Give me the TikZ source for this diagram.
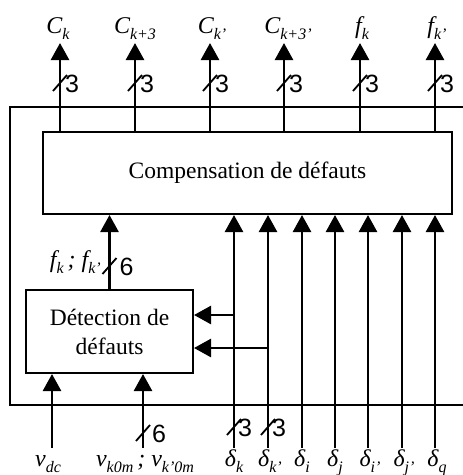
\documentclass[tikz,border=0pt]{standalone}
\usepackage{fontspec}
\setmainfont{Liberation Serif}
\newfontfamily\numfont{Liberation Sans}
\usetikzlibrary{arrows.meta}
\tikzset{
  sigarrow/.style={-{Triangle[length=17pt,width=18pt]}, line width=2.6pt},
  frame/.style={line width=2pt},
  block/.style={draw, line width=2pt, align=center, inner sep=0pt, font=\fontsize{23.5}{29}\selectfont},
  busmark/.style={line width=1.8pt},
  buslabel/.style={font=\numfont\fontsize{25}{25}\selectfont, inner sep=0pt, anchor=west},
  siglabel/.style={font=\fontsize{24}{24}\selectfont\itshape, inner sep=0pt, anchor=base}
}
\newcommand{\sig}[2]{#1\raisebox{-0.28em}{\fontsize{16}{16}\selectfont #2}}
\newcommand{\busmark}[4][5]{%
  \draw[busmark] (#2,#3) ++(-7,8) -- ++(14,-16);
  \node[buslabel] at (#2+#1,#3+1) {#4};}

\begin{document}
\begin{tikzpicture}[x=1pt, y=-1pt]
  \useasboundingbox (0,0) rectangle (463,475);
  % enclosing frame, open on the right
  \draw[frame] (463,107) -- (10,107) -- (10,405) -- (463,405);

  \node[block, minimum width=409pt, minimum height=82pt] (comp) at (247.5,173) {Compensation de défauts};
  \node[block, minimum width=167pt, minimum height=83pt] (det) at (109.5,331.5) {Détection de\\ défauts};

  % outputs
  \coordinate (o1) at (60,43);
  \coordinate (o2) at (135,43);
  \coordinate (o3) at (210,43);
  \coordinate (o4) at (284,43);
  \coordinate (o5) at (360,43);
  \coordinate (o6) at (435,43);
  \draw[sigarrow] (comp.north -| o1) -- (o1);
  \draw[sigarrow] (comp.north -| o2) -- (o2);
  \draw[sigarrow] (comp.north -| o3) -- (o3);
  \draw[sigarrow] (comp.north -| o4) -- (o4);
  \draw[sigarrow] (comp.north -| o5) -- (o5);
  \draw[sigarrow] (comp.north -| o6) -- (o6);
  \node[siglabel] (lC1) at (58,33) {\sig{C}{k}};
  \node[siglabel] (lC2) at (135,33) {\sig{C}{k+3}};
  \node[siglabel] (lC3) at (212,33) {\sig{C}{k’}};
  \node[siglabel] (lC4) at (288,33) {\sig{C}{k+3’}};
  \node[siglabel] (lf1) at (362,33) {\sig{f}{k}};
  \node[siglabel] (lf2) at (437,33) {\sig{f}{k’}};
  \busmark{60}{83}{3}
  \busmark{135}{83}{3}
  \busmark{210}{83}{3}
  \busmark{284}{83}{3}
  \busmark{360}{83}{3}
  \busmark{435}{83}{3}

  % fault signals
  \coordinate (d1) at (234,448);
  \coordinate (d2) at (268,448);
  \coordinate (d3) at (302,448);
  \coordinate (d4) at (335,448);
  \coordinate (d5) at (368,448);
  \coordinate (d6) at (402,448);
  \coordinate (d7) at (435,448);
  \draw[sigarrow] (d1) -- (d1 |- comp.south);
  \draw[sigarrow] (d2) -- (d2 |- comp.south);
  \draw[sigarrow] (d3) -- (d3 |- comp.south);
  \draw[sigarrow] (d4) -- (d4 |- comp.south);
  \draw[sigarrow] (d5) -- (d5 |- comp.south);
  \draw[sigarrow] (d6) -- (d6 |- comp.south);
  \draw[sigarrow] (d7) -- (d7 |- comp.south);
  \node[siglabel] (ld1) at (234,466) {\sig{δ}{k}};
  \node[siglabel] (ld2) at (270,466) {\sig{δ}{k’}};
  \node[siglabel] (ld3) at (302,466) {\sig{δ}{i}};
  \node[siglabel] (ld4) at (335,466) {\sig{δ}{j}};
  \node[siglabel] (ld5) at (370,466) {\sig{δ}{i’}};
  \node[siglabel] (ld6) at (404,466) {\sig{δ}{j’}};
  \node[siglabel] (ld7) at (437,466) {\sig{δ}{q}};
  \busmark[4]{234}{427}{3}
  \busmark[4]{268}{427}{3}

  % branches to detection
  \coordinate (b1) at (234,315);
  \coordinate (b2) at (268,348);
  \draw[sigarrow] (b1) -- (b1 -| det.east);
  \draw[sigarrow] (b2) -- (b2 -| det.east);

  % detection inputs and output
  \coordinate (vdc) at (52,448);
  \coordinate (vkm) at (143,448);
  \draw[sigarrow] (vdc) -- (vdc |- det.south);
  \draw[sigarrow] (vkm) -- (vkm |- det.south);
  \draw[sigarrow] (det.north) -- (det.north |- comp.south);
  \node[siglabel] (lvdc) at (48,466) {\sig{v}{dc}};
  \node[siglabel] (lvkm) at (145,466) {\sig{v}{k0m}\,; \sig{v}{k’0m}};
  \node[siglabel, anchor=base east] (lfk) at (101,267) {\sig{f}{k}\,; \sig{f}{k’}};
  \busmark[10]{109.5}{266}{6}
  \busmark[9]{143}{433}{6}
\end{tikzpicture}
\end{document}
